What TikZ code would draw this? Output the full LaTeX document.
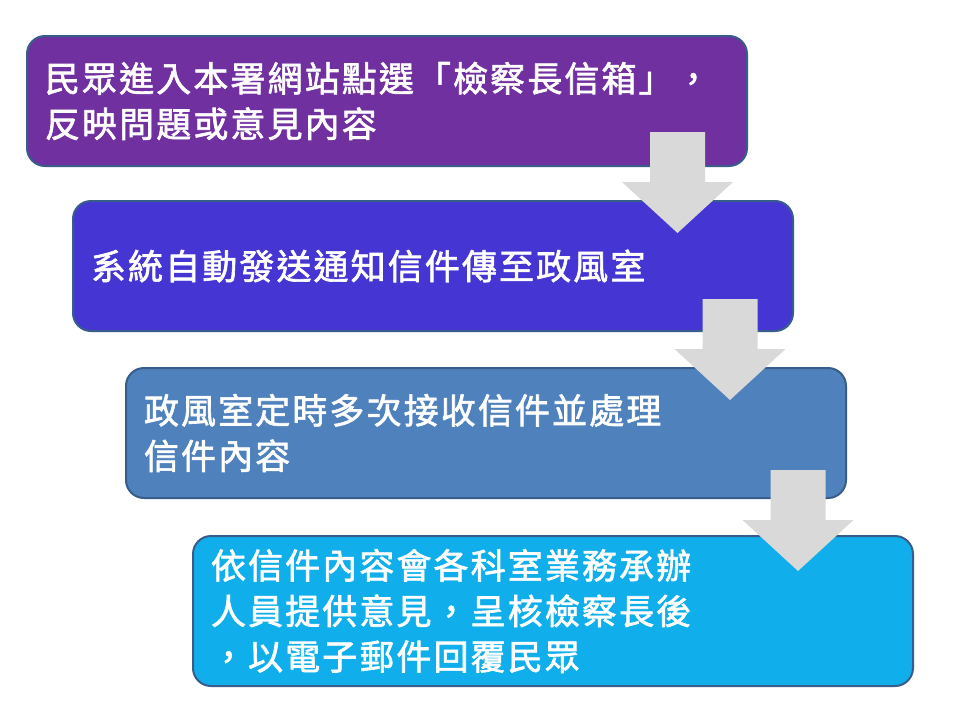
\documentclass[tikz,border=0pt]{standalone}
\usepackage{fontspec}
\newfontfamily\cjk{Noto Sans CJK TC}[LetterSpace=6, FakeBold=1.8]
\definecolor{boxA}{HTML}{7030A0}
\definecolor{boxB}{HTML}{4535D3}
\definecolor{boxC}{HTML}{4F81BD}
\definecolor{boxD}{HTML}{10AEEB}
\definecolor{edgeblue}{HTML}{385D8A}
\definecolor{arrowgray}{HTML}{D9D9D9}
\begin{document}
\begin{tikzpicture}[x=1pt,y=-1pt,
  stepbox/.style={draw=edgeblue, line width=2pt, rounded corners=18pt,
    anchor=north west, minimum width=720pt, minimum height=130pt,
    text width=684pt, inner xsep=18pt, inner ysep=0pt, align=left,
    text=white, font={\cjk\fontsize{35pt}{45.5pt}\selectfont}},
  bigarrow/.pic={\fill[arrowgray] (-27.5,0) -- (27.5,0) -- (27.5,50) -- (55.5,50)
    -- (0,101) -- (-55.5,50) -- (-27.5,50) -- cycle;}]
\useasboundingbox (0,0) rectangle (960,720);
\fill[white] (0,0) rectangle (960,720);
\node[stepbox, fill=boxA] (s1) at (26,35) {民眾進入本署網站點選「檢察長信箱」，\\反映問題或意見內容};
\node[stepbox, fill=boxB] (s2) at (72,200) {系統自動發送通知信件傳至政風室};
\node[stepbox, fill=boxC] (s3) at (125,367) {政風室定時多次接收信件並處理\\信件內容};
\node[stepbox, fill=boxD, minimum height=150pt] (s4) at (192,535) {依信件內容會各科室業務承辦\\人員提供意見，呈核檢察長後\\，以電子郵件回覆民眾};
\pic at (677.5,132) {bigarrow};
\pic at (730,299) {bigarrow};
\pic at (798,470) {bigarrow};
\end{tikzpicture}
\end{document}
